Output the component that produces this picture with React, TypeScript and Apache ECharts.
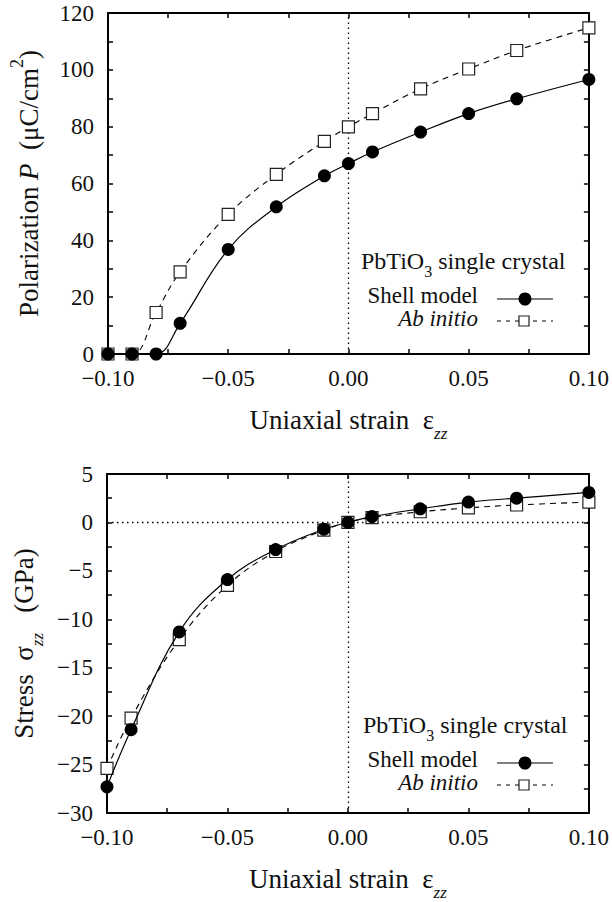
import React, { useEffect, useRef } from "react";
import * as echarts from "echarts";

// ---- data ----
const strainTop = [-0.1, -0.09, -0.08, -0.07, -0.05, -0.03, -0.01, 0.0, 0.01, 0.03, 0.05, 0.07, 0.1];
const polShell = [0, 0, 0, 10.8, 36.8, 51.8, 62.7, 67.0, 71.1, 78.1, 84.6, 89.8, 96.6];
const polAbInitio = [0, 0, 14.6, 28.9, 49.1, 63.2, 74.8, 79.9, 84.6, 93.3, 100.3, 106.8, 114.8];

const strainBottom = [-0.1, -0.09, -0.07, -0.05, -0.03, -0.01, 0.0, 0.01, 0.03, 0.05, 0.07, 0.1];
const stressShell = [-27.3, -21.4, -11.3, -5.9, -2.8, -0.7, 0.0, 0.6, 1.4, 2.1, 2.5, 3.1];
const stressAbInitio = [-25.4, -20.2, -12.1, -6.5, -3.0, -0.8, 0.0, 0.5, 1.1, 1.5, 1.8, 2.1];

const strainTickLabels = [-0.1, -0.05, 0, 0.05, 0.1];
const polTickLabels = [0, 20, 40, 60, 80, 100, 120];
const stressTickLabels = [5, 0, -5, -10, -15, -20, -25, -30];

const FONT = "Liberation Serif";
const SERIF = "'Liberation Serif', 'DejaVu Serif', serif";

const pair = (xs: number[], ys: number[]) => xs.map((x, i) => [x, ys[i]]);
const fmtNum = (v: number, digits: number) => {
  const s = Math.abs(v).toFixed(digits);
  return (v < -1e-9 ? "\u2212" : "") + s;
};
const inList = (v: number, list: number[]) => list.some((t) => Math.abs(t - v) < 1e-6);

export default function App() {
  const ref = useRef<HTMLDivElement>(null);

  useEffect(() => {
    if (!ref.current) return;
    const chart = echarts.init(ref.current, null, { renderer: "svg" });

    const gridTop = { left: 107, top: 13, width: 484, height: 341 };
    const gridBot = { left: 107, top: 474, width: 484, height: 342 };

    const axisLine = { show: true, onZero: false, lineStyle: { color: "#000", width: 2 } };
    const tick = { show: true, inside: true, length: 5, lineStyle: { color: "#000", width: 1.5 } };
    const labelStyle = { fontFamily: FONT, fontSize: 23, color: "#111" };

    const xBase = (gridIndex: number) => ({
      type: "value",
      gridIndex,
      min: -0.1,
      max: 0.1,
      interval: 0.025,
      position: "bottom",
      axisLine,
      axisTick: tick,
      splitLine: { show: false },
      axisLabel: {
        ...labelStyle,
        margin: 13,
        formatter: (v: number) => (inList(v, strainTickLabels) ? fmtNum(v, 2) : ""),
      },
      name: "{a|Uniaxial strain  ε}{s|zz}",
      nameLocation: "middle",
      nameGap: 51,
      nameTextStyle: {
        rich: {
          a: { fontFamily: FONT, fontSize: 27, color: "#111", lineHeight: 30 },
          s: {
            fontFamily: FONT,
            fontSize: 17,
            fontStyle: "italic",
            color: "#111",
            verticalAlign: "bottom",
            lineHeight: 17,
            padding: [0, 0, -7, 0],
          },
        },
      },
    });
    const xMirror = (gridIndex: number) => ({
      type: "value",
      gridIndex,
      min: -0.1,
      max: 0.1,
      interval: 0.025,
      position: "top",
      axisLine,
      axisTick: tick,
      splitLine: { show: false },
      axisLabel: { show: false },
    });

    const yTop = {
      type: "value",
      gridIndex: 0,
      min: 0,
      max: 120,
      interval: 10,
      position: "left",
      axisLine,
      axisTick: tick,
      splitLine: { show: false },
      axisLabel: {
        ...labelStyle,
        margin: 14,
        formatter: (v: number) => (inList(v, polTickLabels) ? fmtNum(v, 0) : ""),
      },
      name: "{a|Polarization }{i|P}{a|  (μC/cm}{p|2}{a|)}",
      nameLocation: "middle",
      nameRotate: 90,
      nameGap: 64,
      nameTextStyle: {
        rich: {
          a: { fontFamily: FONT, fontSize: 27, color: "#111", lineHeight: 30 },
          i: { fontFamily: FONT, fontSize: 27, fontStyle: "italic", color: "#111", lineHeight: 30 },
          p: {
            fontFamily: FONT,
            fontSize: 18,
            color: "#111",
            verticalAlign: "top",
            lineHeight: 18,
            padding: [-6, 0, 0, 0],
          },
        },
      },
    };
    const yBot = {
      type: "value",
      gridIndex: 1,
      min: -30,
      max: 5,
      interval: 2.5,
      position: "left",
      axisLine,
      axisTick: tick,
      splitLine: { show: false },
      axisLabel: {
        ...labelStyle,
        margin: 14,
        formatter: (v: number) => (inList(v, stressTickLabels) ? fmtNum(v, 0) : ""),
      },
      name: "{a|Stress  σ}{s|zz}{a|   (GPa)}",
      nameLocation: "middle",
      nameRotate: 90,
      nameGap: 64,
      nameTextStyle: {
        rich: {
          a: { fontFamily: FONT, fontSize: 27, color: "#111", lineHeight: 30 },
          s: {
            fontFamily: FONT,
            fontSize: 17,
            fontStyle: "italic",
            color: "#111",
            verticalAlign: "bottom",
            lineHeight: 17,
            padding: [0, 0, -7, 0],
          },
        },
      },
    };
    const yMirror = (gridIndex: number, min: number, max: number, interval: number) => ({
      type: "value",
      gridIndex,
      min,
      max,
      interval,
      position: "right",
      axisLine,
      axisTick: tick,
      splitLine: { show: false },
      axisLabel: { show: false },
    });

    const dotted = { color: "#000", width: 1.3, type: [1.5, 3.5] };

    const shellStyle = (xi: number, yi: number, data: number[][], marks: any[]) => ({
      name: "Shell model",
      type: "line",
      xAxisIndex: xi,
      yAxisIndex: yi,
      data,
      smooth: 0.4,
      symbol: "circle",
      symbolSize: 13,
      itemStyle: { color: "#000" },
      lineStyle: { color: "#000", width: 1.2 },
      z: 4,
      markLine: {
        silent: true,
        symbol: ["none", "none"],
        label: { show: false },
        lineStyle: dotted,
        data: marks,
        z: 1,
      },
    });
    const abStyle = (xi: number, yi: number, data: number[][]) => ({
      name: "Ab initio",
      type: "line",
      xAxisIndex: xi,
      yAxisIndex: yi,
      data,
      smooth: 0.4,
      symbol: "rect",
      symbolSize: 12,
      itemStyle: { color: "#fff", borderColor: "#222", borderWidth: 1.2 },
      lineStyle: { color: "#000", width: 1.1, type: [6, 5] },
      z: 3,
    });

    const legendTitleRich = {
      a: { fontFamily: SERIF, fontSize: 24, color: "#111", lineHeight: 28 },
      s: {
        fontFamily: SERIF,
        fontSize: 16,
        color: "#111",
        lineHeight: 16,
        verticalAlign: "bottom",
        padding: [0, 0, -4, 0],
      },
      n: { fontFamily: SERIF, fontSize: 23, color: "#111", lineHeight: 23 },
      it: { fontFamily: SERIF, fontSize: 23, fontStyle: "italic", color: "#111", lineHeight: 23 },
    };

    // legend texts as title components
    const legendTitles = (titleBaseline: number, titleLeft: number) => [
      {
        text: "{a|PbTiO}{s|3}{a| single crystal}",
        left: titleLeft,
        top: titleBaseline - 21,
        padding: 0,
        textStyle: { fontFamily: SERIF, fontSize: 24, fontWeight: "normal", color: "#111", rich: legendTitleRich },
      },
      {
        text: "{n|Shell model}",
        right: 134,
        top: titleBaseline + 16,
        padding: 0,
        textStyle: { fontFamily: SERIF, fontSize: 23, fontWeight: "normal", color: "#111", rich: legendTitleRich },
      },
      {
        text: "{it|Ab initio}",
        right: 134,
        top: titleBaseline + 39,
        padding: 0,
        textStyle: {
          fontFamily: SERIF,
          fontSize: 23,
          fontStyle: "italic",
          fontWeight: "normal",
          color: "#111",
          rich: legendTitleRich,
        },
      },
    ];

    // legend sample marks
    const legendMarks = (titleBaseline: number) => {
      const shellLine = titleBaseline + 31;
      const abLine = titleBaseline + 53;
      return [
        {
          type: "line",
          shape: { x1: 497, y1: shellLine, x2: 553, y2: shellLine },
          style: { stroke: "#000", lineWidth: 1.2 },
        },
        {
          type: "circle",
          shape: { cx: 525, cy: shellLine, r: 6.5 },
          style: { fill: "#000" },
        },
        {
          type: "line",
          shape: { x1: 497, y1: abLine, x2: 553, y2: abLine },
          style: { stroke: "#000", lineWidth: 1.1, lineDash: [4, 5] },
        },
        {
          type: "rect",
          shape: { x: 519, y: abLine - 5, width: 10, height: 10 },
          style: { fill: "#fff", stroke: "#222", lineWidth: 1.2 },
        },
      ];
    };

    chart.setOption({
      animation: false,
      backgroundColor: "#fff",
      title: [...legendTitles(268, 361), ...legendTitles(732, 363)],
      grid: [gridTop, gridBot],
      xAxis: [xBase(0), xBase(1), xMirror(0), xMirror(1)],
      yAxis: [yTop, yBot, yMirror(0, 0, 120, 10), yMirror(1, -30, 5, 2.5)],
      series: [
        shellStyle(0, 0, pair(strainTop, polShell), [{ xAxis: 0 }]),
        abStyle(0, 0, pair(strainTop, polAbInitio)),
        shellStyle(1, 1, pair(strainBottom, stressShell), [{ xAxis: 0 }, { yAxis: 0 }]),
        abStyle(1, 1, pair(strainBottom, stressAbInitio)),
      ],
      graphic: [...legendMarks(268), ...legendMarks(732)],
    });

    return () => chart.dispose();
  }, []);

  return (
    <div
      ref={ref}
      style={{ position: "absolute", left: 0, top: 0, width: 612, height: 902, background: "#fff" }}
    />
  );
}
